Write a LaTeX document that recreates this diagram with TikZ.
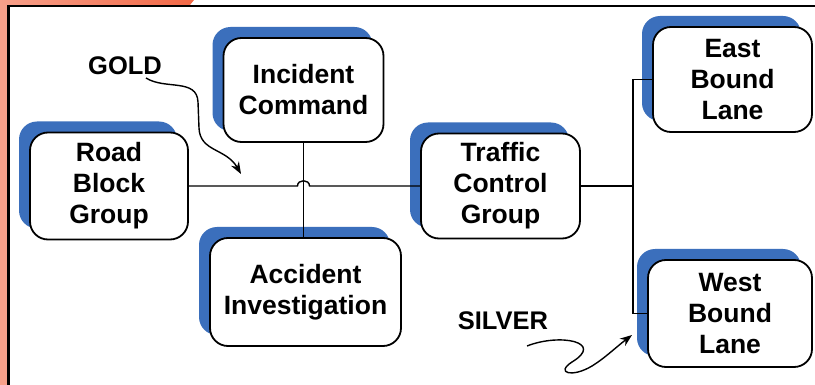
\documentclass[tikz,border=0pt]{standalone}
\usepackage{fontspec}
\setmainfont{Liberation Sans}
\usetikzlibrary{shadows,arrows.meta}
\definecolor{salmon}{RGB}{247,160,138}
\definecolor{orangered}{RGB}{242,104,70}
\definecolor{shadowblue}{RGB}{59,111,188}
\tikzset{
  unitbox/.style={draw=black, line width=1.8pt, fill=white, rounded corners=18pt,
    align=center, inner sep=0pt, outer sep=0pt,
    font=\fontsize{26.5}{31}\selectfont\bfseries,
    copy shadow={shadow xshift=-11pt, shadow yshift=11pt, fill=shadowblue, draw=none}},
  link/.style={draw=black, line width=1.4pt},
  callout/.style={draw=black, line width=1.4pt, -{Stealth[length=12pt,width=9pt]}},
  tag/.style={font=\fontsize{25.5}{30}\selectfont\bfseries, inner sep=0pt, anchor=base}
}
\begin{document}
\begin{tikzpicture}[x=1pt,y=-1pt]
\useasboundingbox (0,0) rectangle (815,385);
\fill[white] (0,0) rectangle (815,385);
% frame
\fill[salmon] (0,0) rectangle (7,385);
\shade[left color=salmon, right color=orangered] (0,0) -- (194,0) -- (190,5) -- (0,5) -- cycle;
\draw[line width=2.6pt] (8.5,385) -- (8.5,6) -- (815,6);
% boxes
\node[unitbox, minimum width=160, minimum height=104] (IC) at (303.5,90) {Incident\\Command};
\node[unitbox, minimum width=158, minimum height=107] (RB) at (109,186) {Road\\Block\\Group};
\node[unitbox, minimum width=191, minimum height=108] (AI) at (305.5,292) {Accident\\Investigation};
\node[unitbox, minimum width=159, minimum height=105] (TC) at (500.5,186) {Traffic\\Control\\Group};
\node[unitbox, minimum width=159, minimum height=105] (EB) at (732.5,79.5) {East\\Bound\\Lane};
\node[unitbox, minimum width=164, minimum height=107] (WB) at (730,313.5) {West\\Bound\\Lane};
% connectors
\coordinate (hopA) at (297.5,186);
\coordinate (hopB) at (309.5,186);
\coordinate (bus) at (633,186);
\draw[link] (IC.south) -- (IC.south |- AI.north);
\draw[link] (RB.east) -- (hopA) .. controls (297.5,179) and (309.5,179) .. (hopB) -- (TC.west);
\draw[link] (TC.east) -- (bus);
\draw[link] (EB.west) -- (EB.west -| bus) -- (WB.west -| bus) -- (WB.west);
% labels
\node[tag] (gold) at (125,75) {GOLD};
\node[tag] (silver) at (503,330) {SILVER};
\coordinate (goldtip) at (241,174);
\coordinate (silvertip) at (632,335);
\draw[callout] (146,78) .. controls (165,90) and (197,78) .. (198,102) -- (199,128) .. controls (200,152) and (226,148) .. (goldtip);
\draw[callout] (527,346) .. controls (560,333) and (605,342) .. (572,362) .. controls (555,373) and (572,378) .. (592,366) .. controls (605,358) and (615,348) .. (silvertip);
\end{tikzpicture}
\end{document}
